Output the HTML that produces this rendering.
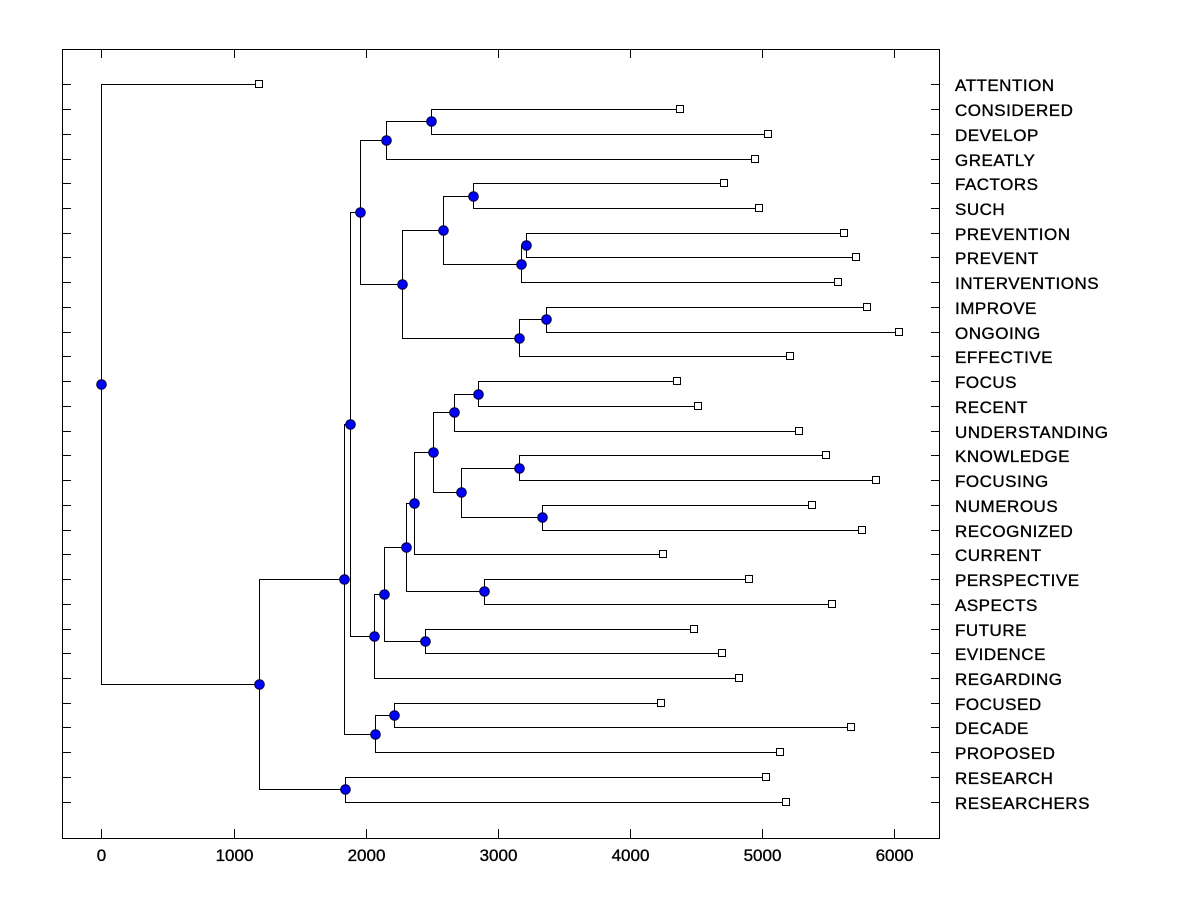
<!DOCTYPE html>
<html>
<head>
<meta charset="utf-8">
<style>
html,body{margin:0;padding:0;background:#fff;}
svg{display:block;}
text{font-family:"Liberation Sans",Arial,sans-serif;fill:#000;stroke:#000;stroke-width:0.35px;}
.lbl{font-size:17px;letter-spacing:0.5px;}
.tk{font-size:17px;}
</style>
</head>
<body>
<svg width="1200" height="900" viewBox="0 0 1200 900" xmlns="http://www.w3.org/2000/svg">
<rect x="0" y="0" width="1200" height="900" fill="#fff"/>
<g fill="none" stroke="#000" stroke-width="1" shape-rendering="crispEdges">
<rect x="62.5" y="49.5" width="877" height="789"/>
<path d="M101.5 838V829M234.5 838V829M366.5 838V829M498.5 838V829M630.5 838V829M762.5 838V829M894.5 838V829"/>
<path d="M101.5 50V58M234.5 50V58M366.5 50V58M498.5 50V58M630.5 50V58M762.5 50V58M894.5 50V58"/>
<path d="M63 84.5H71M63 109.5H71M63 134.5H71M63 159.5H71M63 183.5H71M63 208.5H71M63 233.5H71M63 257.5H71M63 282.5H71M63 307.5H71M63 332.5H71M63 356.5H71M63 381.5H71M63 406.5H71M63 431.5H71M63 455.5H71M63 480.5H71M63 505.5H71M63 530.5H71M63 554.5H71M63 579.5H71M63 604.5H71M63 629.5H71M63 653.5H71M63 678.5H71M63 703.5H71M63 727.5H71M63 752.5H71M63 777.5H71M63 802.5H71"/>
<path d="M931 84.5H939M931 109.5H939M931 134.5H939M931 159.5H939M931 183.5H939M931 208.5H939M931 233.5H939M931 257.5H939M931 282.5H939M931 307.5H939M931 332.5H939M931 356.5H939M931 381.5H939M931 406.5H939M931 431.5H939M931 455.5H939M931 480.5H939M931 505.5H939M931 530.5H939M931 554.5H939M931 579.5H939M931 604.5H939M931 629.5H939M931 653.5H939M931 678.5H939M931 703.5H939M931 727.5H939M931 752.5H939M931 777.5H939M931 802.5H939"/>
<path d="M255 84.5H101.5V684.5H259.5"/>
<path d="M344.5 579.5H259.5V789.5H345.5"/>
<path d="M762 777.5H345.5V802.5H782"/>
<path d="M350.5 424.5H344.5V734.5H375.5"/>
<path d="M394.5 715.5H375.5V752.5H776"/>
<path d="M657 703.5H394.5V727.5H847"/>
<path d="M360.5 212.5H350.5V636.5H374.5"/>
<path d="M386.5 140.5H360.5V284.5H402.5"/>
<path d="M431.5 121.5H386.5V159.5H751"/>
<path d="M676 109.5H431.5V134.5H764"/>
<path d="M443.5 230.5H402.5V338.5H519.5"/>
<path d="M473.5 196.5H443.5V264.5H521.5"/>
<path d="M720 183.5H473.5V208.5H755"/>
<path d="M526.5 245.5H521.5V282.5H834"/>
<path d="M840 233.5H526.5V257.5H852"/>
<path d="M546.5 319.5H519.5V356.5H786"/>
<path d="M863 307.5H546.5V332.5H895"/>
<path d="M384.5 594.5H374.5V678.5H735"/>
<path d="M406.5 547.5H384.5V641.5H425.5"/>
<path d="M690 629.5H425.5V653.5H718"/>
<path d="M414.5 503.5H406.5V591.5H484.5"/>
<path d="M745 579.5H484.5V604.5H828"/>
<path d="M433.5 452.5H414.5V554.5H659"/>
<path d="M454.5 412.5H433.5V492.5H461.5"/>
<path d="M478.5 394.5H454.5V431.5H795"/>
<path d="M673 381.5H478.5V406.5H694"/>
<path d="M519.5 468.5H461.5V517.5H542.5"/>
<path d="M822 455.5H519.5V480.5H872"/>
<path d="M808 505.5H542.5V530.5H858"/>
</g>
<g fill="#fff" stroke="#000" stroke-width="1" shape-rendering="crispEdges">
<rect x="255.5" y="80.5" width="7" height="7"/>
<rect x="676.5" y="105.5" width="7" height="7"/>
<rect x="764.5" y="130.5" width="7" height="7"/>
<rect x="751.5" y="155.5" width="7" height="7"/>
<rect x="720.5" y="179.5" width="7" height="7"/>
<rect x="755.5" y="204.5" width="7" height="7"/>
<rect x="840.5" y="229.5" width="7" height="7"/>
<rect x="852.5" y="253.5" width="7" height="7"/>
<rect x="834.5" y="278.5" width="7" height="7"/>
<rect x="863.5" y="303.5" width="7" height="7"/>
<rect x="895.5" y="328.5" width="7" height="7"/>
<rect x="786.5" y="352.5" width="7" height="7"/>
<rect x="673.5" y="377.5" width="7" height="7"/>
<rect x="694.5" y="402.5" width="7" height="7"/>
<rect x="795.5" y="427.5" width="7" height="7"/>
<rect x="822.5" y="451.5" width="7" height="7"/>
<rect x="872.5" y="476.5" width="7" height="7"/>
<rect x="808.5" y="501.5" width="7" height="7"/>
<rect x="858.5" y="526.5" width="7" height="7"/>
<rect x="659.5" y="550.5" width="7" height="7"/>
<rect x="745.5" y="575.5" width="7" height="7"/>
<rect x="828.5" y="600.5" width="7" height="7"/>
<rect x="690.5" y="625.5" width="7" height="7"/>
<rect x="718.5" y="649.5" width="7" height="7"/>
<rect x="735.5" y="674.5" width="7" height="7"/>
<rect x="657.5" y="699.5" width="7" height="7"/>
<rect x="847.5" y="723.5" width="7" height="7"/>
<rect x="776.5" y="748.5" width="7" height="7"/>
<rect x="762.5" y="773.5" width="7" height="7"/>
<rect x="782.5" y="798.5" width="7" height="7"/>
</g>
<g fill="#0000ff" stroke="#000030" stroke-width="1">
<circle cx="101.5" cy="384.5" r="4.8"/>
<circle cx="259.5" cy="684.5" r="4.8"/>
<circle cx="345.5" cy="789.5" r="4.8"/>
<circle cx="344.5" cy="579.5" r="4.8"/>
<circle cx="375.5" cy="734.5" r="4.8"/>
<circle cx="394.5" cy="715.5" r="4.8"/>
<circle cx="350.5" cy="424.5" r="4.8"/>
<circle cx="360.5" cy="212.5" r="4.8"/>
<circle cx="386.5" cy="140.5" r="4.8"/>
<circle cx="431.5" cy="121.5" r="4.8"/>
<circle cx="402.5" cy="284.5" r="4.8"/>
<circle cx="443.5" cy="230.5" r="4.8"/>
<circle cx="473.5" cy="196.5" r="4.8"/>
<circle cx="521.5" cy="264.5" r="4.8"/>
<circle cx="526.5" cy="245.5" r="4.8"/>
<circle cx="519.5" cy="338.5" r="4.8"/>
<circle cx="546.5" cy="319.5" r="4.8"/>
<circle cx="374.5" cy="636.5" r="4.8"/>
<circle cx="384.5" cy="594.5" r="4.8"/>
<circle cx="425.5" cy="641.5" r="4.8"/>
<circle cx="406.5" cy="547.5" r="4.8"/>
<circle cx="484.5" cy="591.5" r="4.8"/>
<circle cx="414.5" cy="503.5" r="4.8"/>
<circle cx="433.5" cy="452.5" r="4.8"/>
<circle cx="454.5" cy="412.5" r="4.8"/>
<circle cx="478.5" cy="394.5" r="4.8"/>
<circle cx="461.5" cy="492.5" r="4.8"/>
<circle cx="519.5" cy="468.5" r="4.8"/>
<circle cx="542.5" cy="517.5" r="4.8"/>
</g>
<g class="tk" text-anchor="middle">
<text x="101.5" y="861">0</text>
<text x="234.5" y="861">1000</text>
<text x="366.5" y="861">2000</text>
<text x="498.5" y="861">3000</text>
<text x="630.5" y="861">4000</text>
<text x="762.5" y="861">5000</text>
<text x="894.5" y="861">6000</text>
</g>
<g class="lbl">
<text x="955" y="91">ATTENTION</text>
<text x="955" y="116">CONSIDERED</text>
<text x="955" y="141">DEVELOP</text>
<text x="955" y="166">GREATLY</text>
<text x="955" y="190">FACTORS</text>
<text x="955" y="215">SUCH</text>
<text x="955" y="240">PREVENTION</text>
<text x="955" y="264">PREVENT</text>
<text x="955" y="289">INTERVENTIONS</text>
<text x="955" y="314">IMPROVE</text>
<text x="955" y="339">ONGOING</text>
<text x="955" y="363">EFFECTIVE</text>
<text x="955" y="388">FOCUS</text>
<text x="955" y="413">RECENT</text>
<text x="955" y="438">UNDERSTANDING</text>
<text x="955" y="462">KNOWLEDGE</text>
<text x="955" y="487">FOCUSING</text>
<text x="955" y="512">NUMEROUS</text>
<text x="955" y="537">RECOGNIZED</text>
<text x="955" y="561">CURRENT</text>
<text x="955" y="586">PERSPECTIVE</text>
<text x="955" y="611">ASPECTS</text>
<text x="955" y="636">FUTURE</text>
<text x="955" y="660">EVIDENCE</text>
<text x="955" y="685">REGARDING</text>
<text x="955" y="710">FOCUSED</text>
<text x="955" y="734">DECADE</text>
<text x="955" y="759">PROPOSED</text>
<text x="955" y="784">RESEARCH</text>
<text x="955" y="809">RESEARCHERS</text>
</g>
</svg>
</body>
</html>
